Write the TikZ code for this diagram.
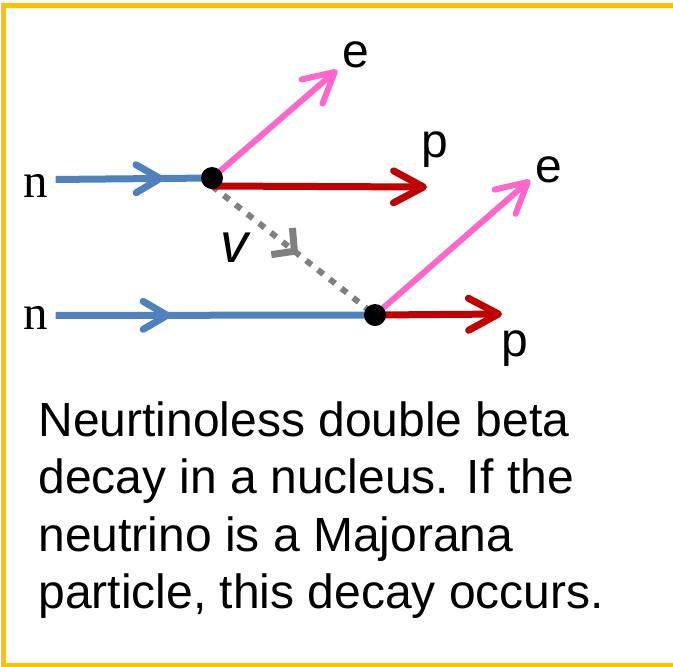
\documentclass[tikz,border=0pt]{standalone}
\usepackage{fontspec}
\usetikzlibrary{arrows.meta,decorations.markings}
\newfontfamily\labelfont{Liberation Sans}
\newfontfamily\nucfont{Liberation Serif}
\definecolor{framegold}{RGB}{255,192,0}
\definecolor{neutronblue}{RGB}{79,129,189}
\definecolor{electronpink}{RGB}{255,102,204}
\definecolor{protonred}{RGB}{192,0,0}
\definecolor{neutrinogray}{RGB}{128,128,128}
\tikzset{
  bigbarb/.tip={Straight Barb[length=15pt 0,width=16pt 0,round]},
  midbarb/.tip={Straight Barb[length=12pt 0,width=14pt 0,round]},
  nubarb/.tip={Straight Barb[length=8pt 0,width=17pt 0]},
  midarrow/.style={postaction={decorate},decoration={markings,
      mark=at position #1 with {\arrow{midbarb}}}},
  lbl/.style={anchor=base,inner sep=0pt,font=\labelfont\fontsize{24pt}{24pt}\selectfont},
  nlbl/.style={anchor=base,inner sep=0pt,font=\nucfont\fontsize{24.5pt}{24.5pt}\selectfont}
}

\begin{document}
\begin{tikzpicture}[x=0.5pt,y=-0.5pt,
  vertex/.style={circle,fill=black,inner sep=0pt,minimum size=11pt},
  nline/.style={line width=3.5pt,neutronblue},
  eline/.style={line width=3pt,electronpink,-bigbarb},
  pline/.style={line width=3.5pt,protonred,-bigbarb}]
\useasboundingbox (0,0) rectangle (673,666);
\draw[framegold,line width=2.5pt] (3.5,5) rectangle (690,665);

\coordinate (v1) at (212,178);
\coordinate (v2) at (375,315);
\coordinate (e1tip) at (337,70);
\coordinate (p1tip) at (427,187);
\coordinate (e2tip) at (530,180);
\coordinate (p2tip) at (502,314);

\node[nlbl] (n1) at (36,197) {n};
\node[nlbl] (n2) at (36,329) {n};
\node[lbl] (e1) at (356,67) {e};
\node[lbl] (p1) at (435,157) {p};
\node[lbl] (e2) at (549,182) {e};
\node[lbl] (p2) at (515,356) {p};
\node[lbl,font=\labelfont\itshape\fontsize{28pt}{28pt}\selectfont] (nu) at (234,262) {v};

\draw[nline,midarrow=0.69] ([xshift=3.5pt,yshift=3pt]n1.east) -- (v1);
\draw[nline,midarrow=0.36] ([xshift=3.5pt,yshift=1pt]n2.east) -- (v2);
\draw[neutrinogray,line width=3pt,dash pattern=on 3.5pt off 4pt,
      postaction={decorate},decoration={markings,mark=at position 0.53 with {\arrow[line width=3.5pt]{nubarb}}}]
      ([yshift=-4pt]v1) -- (v2);
\draw[eline] (v1) -- (e1tip);
\draw[pline] ([yshift=-4pt]v1) -- (p1tip);
\draw[eline] (v2) -- (e2tip);
\draw[pline] (v2) -- (p2tip);
\node[vertex] (dot1) at (v1) {};
\node[vertex] (dot2) at (v2) {};

\node[anchor=north west,inner sep=0pt,align=left,
      font=\labelfont\fontsize{24pt}{28.7pt}\selectfont] (note) at (38,401)
      {Neurtinoless double beta\\decay in a nucleus. If the\\neutrino is a Majorana\\particle, this decay occurs.};
\end{tikzpicture}
\end{document}
